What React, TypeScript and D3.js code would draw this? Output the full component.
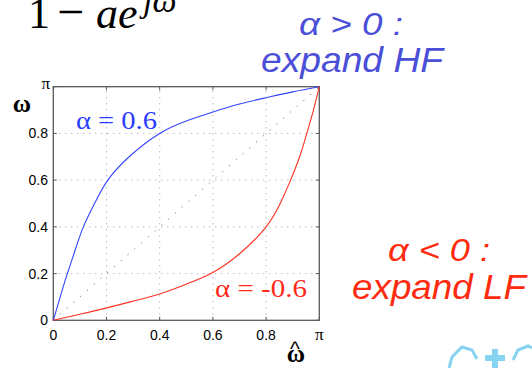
import React, { useEffect, useRef } from "react";
import * as d3 from "d3";

// normalised frequency (fraction of pi)
const ticks = [0, 0.2, 0.4, 0.6, 0.8, 1];
const tickLabels = ["0", "0.2", "0.4", "0.6", "0.8", "π"];

// alpha = 0.6 warping curve
const blueX = [0, 0.026, 0.05, 0.082, 0.113, 0.155, 0.205, 0.285, 0.4, 0.51, 0.6, 0.7, 0.8, 0.9, 1];
const blueY = [0, 0.1, 0.19, 0.3, 0.4, 0.5, 0.6, 0.7, 0.8, 0.857, 0.892, 0.926, 0.953, 0.978, 1];

// alpha = -0.6 warping curve
const redX = [0, 0.1, 0.19, 0.3, 0.4, 0.5, 0.6, 0.7, 0.8, 0.857, 0.892, 0.926, 0.953, 0.978, 1];
const redY = [0, 0.026, 0.05, 0.082, 0.113, 0.155, 0.205, 0.285, 0.4, 0.51, 0.6, 0.7, 0.8, 0.9, 1];

const W = 532;
const H = 368;
const PLOT = { left: 53.3, right: 319.3, top: 86.7, bottom: 320.3 };

const App = () => {
  const ref = useRef<SVGSVGElement | null>(null);

  useEffect(() => {
    const svg = d3.select(ref.current);
    svg.selectAll("*").remove();

    const x = d3.scaleLinear().domain([0, 1]).range([PLOT.left, PLOT.right]);
    const y = d3.scaleLinear().domain([0, 1]).range([PLOT.bottom, PLOT.top]);

    const g = svg.append("g");

    // grid
    const inner = ticks.slice(1, -1);
    g.selectAll(".gx")
      .data(inner)
      .enter()
      .append("line")
      .attr("x1", (d) => x(d))
      .attr("x2", (d) => x(d))
      .attr("y1", y(0))
      .attr("y2", y(1))
      .attr("stroke", "#9a9a9a")
      .attr("stroke-width", 1)
      .attr("stroke-dasharray", "1,5");
    g.selectAll(".gy")
      .data(inner)
      .enter()
      .append("line")
      .attr("y1", (d) => y(d))
      .attr("y2", (d) => y(d))
      .attr("x1", x(0))
      .attr("x2", x(1))
      .attr("stroke", "#9a9a9a")
      .attr("stroke-width", 1)
      .attr("stroke-dasharray", "1,5");

    // diagonal
    g.append("line")
      .attr("x1", x(0))
      .attr("y1", y(0))
      .attr("x2", x(1))
      .attr("y2", y(1))
      .attr("stroke", "#555")
      .attr("stroke-width", 1)
      .attr("stroke-dasharray", "1,8");

    // box
    g.append("rect")
      .attr("x", x(0))
      .attr("y", y(1))
      .attr("width", x(1) - x(0))
      .attr("height", y(0) - y(1))
      .attr("fill", "none")
      .attr("stroke", "#5a5a5a")
      .attr("stroke-width", 1.3);

    // inward ticks on every side
    const tl = 3.5;
    ticks.forEach((t) => {
      g.append("line").attr("x1", x(t)).attr("x2", x(t)).attr("y1", y(0)).attr("y2", y(0) - tl).attr("stroke", "#5a5a5a");
      g.append("line").attr("x1", x(t)).attr("x2", x(t)).attr("y1", y(1)).attr("y2", y(1) + tl).attr("stroke", "#5a5a5a");
      g.append("line").attr("y1", y(t)).attr("y2", y(t)).attr("x1", x(0)).attr("x2", x(0) + tl).attr("stroke", "#5a5a5a");
      g.append("line").attr("y1", y(t)).attr("y2", y(t)).attr("x1", x(1)).attr("x2", x(1) - tl).attr("stroke", "#5a5a5a");
    });

    // tick labels
    const sans = "'Liberation Sans', Arial, sans-serif";
    const serif = "'Liberation Serif', 'Times New Roman', serif";
    g.selectAll(".xl")
      .data(ticks)
      .enter()
      .append("text")
      .attr("x", (d) => x(d))
      .attr("y", 340)
      .attr("text-anchor", "middle")
      .attr("font-family", (d, i) => (i === 5 ? serif : sans))
      .attr("font-size", (d, i) => (i === 5 ? 17 : 14))
      .text((d, i) => tickLabels[i]);
    g.selectAll(".yl")
      .data(ticks)
      .enter()
      .append("text")
      .attr("x", (d, i) => (i === 5 ? 50 : 48))
      .attr("y", (d, i) => y(d) + (i === 5 ? 2 : 5))
      .attr("text-anchor", "end")
      .attr("font-family", (d, i) => (i === 5 ? serif : sans))
      .attr("font-size", (d, i) => (i === 5 ? 17 : 14))
      .text((d, i) => tickLabels[i]);

    // curves
    const line = d3
      .line<number>()
      .x((d) => x(d))
      .curve(d3.curveNatural);
    g.append("path")
      .attr("d", line.y((d, i) => y(blueY[i]))(blueX))
      .attr("fill", "none")
      .attr("stroke", "#3344ff")
      .attr("stroke-width", 1.1);
    g.append("path")
      .attr("d", line.y((d, i) => y(redY[i]))(redX))
      .attr("fill", "none")
      .attr("stroke", "#ff3322")
      .attr("stroke-width", 1.1);

    // curve labels (the slide is stretched sideways, so fit the widths)
    g.append("text").attr("x", 76).attr("y", 129).attr("font-family", serif).attr("font-size", 25)
      .attr("textLength", 81).attr("lengthAdjust", "spacingAndGlyphs").attr("fill", "#2a3dff").text("α = 0.6");
    g.append("text").attr("x", 215).attr("y", 296.5).attr("font-family", serif).attr("font-size", 25)
      .attr("textLength", 92).attr("lengthAdjust", "spacingAndGlyphs").attr("fill", "#ff2a1a").text("α = -0.6");

    // axis labels
    g.append("text").attr("x", 22).attr("y", 111.5).attr("text-anchor", "middle").attr("font-family", serif).attr("font-weight", "bold").attr("font-size", 25).text("ω");
    g.append("text").attr("x", 296).attr("y", 362).attr("text-anchor", "middle").attr("font-family", serif).attr("font-weight", "bold").attr("font-size", 25).text("ω");
    g.append("text").attr("x", 295).attr("y", 356).attr("text-anchor", "middle").attr("font-family", sans).attr("font-size", 21).text("^");

    // formula fragment at top
    const f = svg.append("g").attr("font-family", serif);
    f.append("text").attr("x", 28).attr("y", 28).attr("font-size", 44).text("1");
    f.append("text").attr("x", 57).attr("y", 28).attr("font-size", 48).text("−");
    f.append("text").attr("x", 96).attr("y", 28).attr("font-size", 44).attr("font-style", "italic").text("ae");
    f.append("text").attr("x", 143).attr("y", 12).attr("font-size", 34).attr("font-style", "italic").text("jω");

    // annotations
    const a = svg.append("g").attr("font-family", sans).attr("font-style", "italic").attr("lengthAdjust", "spacingAndGlyphs");
    a.append("text").attr("x", 299).attr("y", 35).attr("font-size", 31).attr("textLength", 104).attr("lengthAdjust", "spacingAndGlyphs").attr("fill", "#4b4fd8").text("α > 0 :");
    a.append("text").attr("x", 261).attr("y", 72).attr("font-size", 35).attr("textLength", 182).attr("lengthAdjust", "spacingAndGlyphs").attr("fill", "#4b4fd8").text("expand HF");
    a.append("text").attr("x", 388).attr("y", 261).attr("font-size", 31).attr("textLength", 102).attr("lengthAdjust", "spacingAndGlyphs").attr("fill", "#ff2b0f").text("α < 0 :");
    a.append("text").attr("x", 352).attr("y", 298.5).attr("font-size", 35).attr("textLength", 174).attr("lengthAdjust", "spacingAndGlyphs").attr("fill", "#ff2b0f").text("expand LF");

    // partial logo, bottom right
    const logo = svg.append("g").attr("fill", "none").attr("stroke", "#86d3f2").attr("stroke-width", 3);
    logo.append("path").attr("d", "M449,368 L452,357 L462,347 L472,350 L477,359");
    logo.append("path").attr("d", "M513,360 L518,350 L528,346 L532,348");
    svg.append("rect").attr("x", 485).attr("y", 355).attr("width", 20).attr("height", 6).attr("fill", "#86d3f2");
    svg.append("rect").attr("x", 492).attr("y", 349).attr("width", 6).attr("height", 19).attr("fill", "#86d3f2");

    return () => {
      svg.selectAll("*").remove();
    };
  }, []);

  return (
    <svg
      ref={ref}
      width={W}
      height={H}
      style={{ position: "absolute", left: 0, top: 0, background: "#fff" }}
    />
  );
};

export default App;
